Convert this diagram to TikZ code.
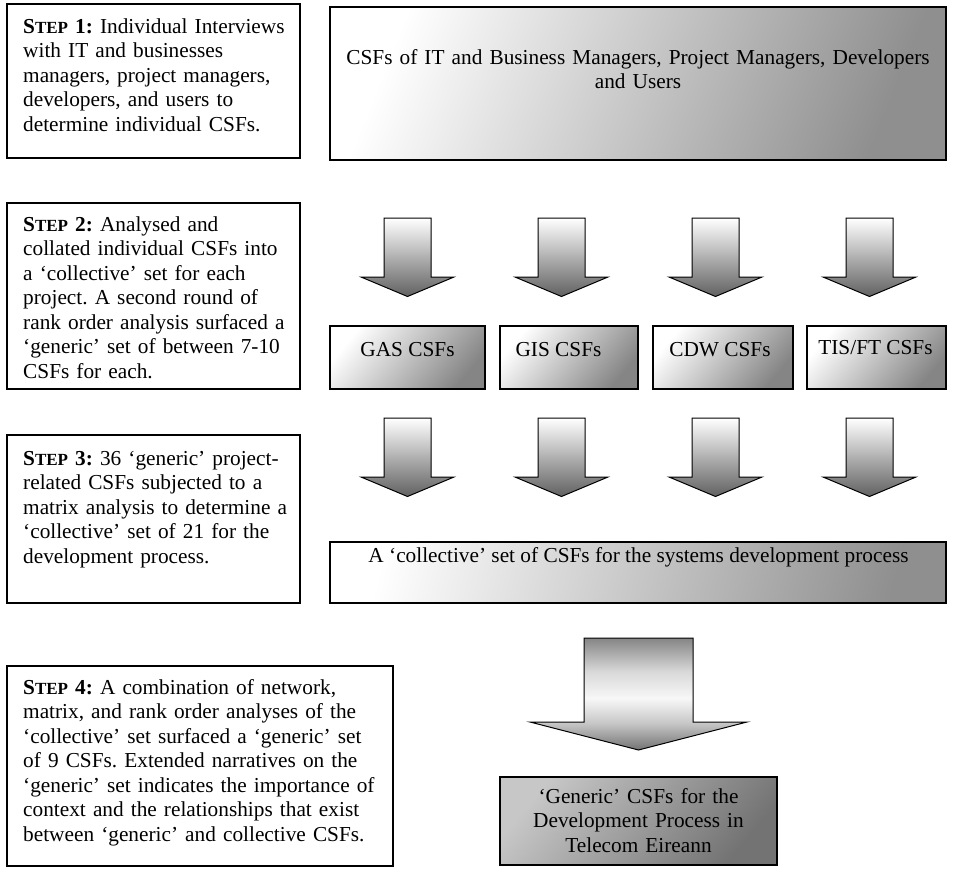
\documentclass[tikz,border=0pt]{standalone}
\usepackage{fontspec}
\setmainfont{Liberation Serif}
\frenchspacing
\pgfdeclareverticalshading{bigarr}{100bp}{color(0bp)=(black!55); color(25bp)=(black!55); color(37bp)=(black!22); color(48bp)=(black!3); color(60bp)=(black!15); color(75bp)=(black!48); color(100bp)=(black!48)}
\newcommand\stp[1]{\textbf{S{\fontsize{17}{24.5}\selectfont TEP}~#1:}}
\newcommand\smallarrow[2]{%
  \draw[arr] ({#1-23.5},{#2}) -- ({#1+23.5},{#2}) -- ({#1+23.5},{#2+59}) -- ({#1+46.5},{#2+59}) -- ({#1},{#2+78.5}) -- ({#1-46.5},{#2+59}) -- ({#1-23.5},{#2+59}) -- cycle;}
\begin{document}
\begin{tikzpicture}[x=1pt,y=-1pt,
  stepbox/.style={draw=black, line width=1.3pt, fill=white, anchor=north west, inner sep=0pt, outer sep=0pt},
  steptext/.style={anchor=base west, inner sep=0pt, text width=370pt, align=left, font=\fontsize{21.3}{24.5}\selectfont},
  ctext/.style={anchor=base, inner sep=0pt, align=center, font=\fontsize{21.3}{24.5}\selectfont},
  shbox/.style={draw=black, line width=1.2pt, anchor=north west, inner sep=0pt, outer sep=0pt},
  arr/.style={draw=black, line width=1pt, top color=white, bottom color=black!62},
]
\useasboundingbox (0,0) rectangle (958,868);

% step boxes
\node[stepbox, minimum width=293pt, minimum height=154pt] (s1) at (7,4) {};
\node[stepbox, minimum width=293pt, minimum height=186pt] (s2) at (7,203) {};
\node[stepbox, minimum width=293pt, minimum height=168pt] (s3) at (7,435) {};
\node[stepbox, minimum width=386pt, minimum height=200pt] (s4) at (7,666) {};

\node[steptext] (s1t) at (23,33) {\stp{1} Individual Interviews\\with IT and businesses\\managers, project managers,\\developers, and users to\\determine individual CSFs.};
\node[steptext] (s2t) at (23,231) {\stp{2} Analysed and\\collated individual CSFs into\\a ‘collective’ set for each\\project. A second round of\\rank order analysis surfaced a\\‘generic’ set of between 7-10\\CSFs for each.};
\node[steptext] (s3t) at (23,465) {\stp{3} 36 ‘generic’ project-\\related CSFs subjected to a\\matrix analysis to determine a\\‘collective’ set of 21 for the\\development process.};
\node[steptext] (s4t) at (23,694) {\stp{4} A combination of network,\\matrix, and rank order analyses of the\\‘collective’ set surfaced a ‘generic’ set\\of 9 CSFs. Extended narratives on the\\‘generic’ set indicates the importance of\\context and the relationships that exist\\between ‘generic’ and collective CSFs.};

% top box
\node[shbox, minimum width=616pt, minimum height=153pt, top color=white, bottom color=black!44, shading angle=68] (all) at (330,7) {};
\node[ctext, text width=600pt] (allt) at (638,64) {CSFs of IT and Business Managers, Project Managers, Developers\\and Users};

% arrows
\foreach \cx in {407.5,561.5,715.5,869.5} {
  \smallarrow{\cx}{218}
  \smallarrow{\cx}{418}
}

% project boxes
\tikzset{pbox/.style={shbox, minimum height=63pt, top color=white, bottom color=black!48, shading angle=50}}
\node[pbox, minimum width=155pt] (gas) at (330,326) {};
\node[pbox, minimum width=138pt] (gis) at (500,326) {};
\node[pbox, minimum width=140pt] (cdw) at (653,326) {};
\node[pbox, minimum width=139pt] (tis) at (807,326) {};
\node[ctext] (gast) at (407.5,356) {GAS CSFs};
\node[ctext] (gist) at (558.5,356) {GIS CSFs};
\node[ctext] (cdwt) at (720,356) {CDW CSFs};
\node[ctext] (tist) at (875.5,354) {TIS/FT CSFs};

% collective box
\node[shbox, minimum width=616pt, minimum height=61pt, top color=white, bottom color=black!44, shading angle=76] (coll) at (330,542) {};
\node[ctext] (collt) at (638.5,562) {A ‘collective’ set of CSFs for the systems development process};

% big arrow
\draw[draw=black, line width=1pt, shading=bigarr] (584,638) -- (693,638) -- (693,722) -- (747,722) -- (638.5,750) -- (530,722) -- (584,722) -- cycle;

% generic box
\node[shbox, minimum width=277pt, minimum height=88pt, top color=black!22, bottom color=black!55, shading angle=50] (gen) at (500,777) {};
\node[ctext, text width=270pt] (gent) at (638.5,803) {‘Generic’ CSFs for the\\Development Process in\\Telecom Eireann};
\end{tikzpicture}
\end{document}
